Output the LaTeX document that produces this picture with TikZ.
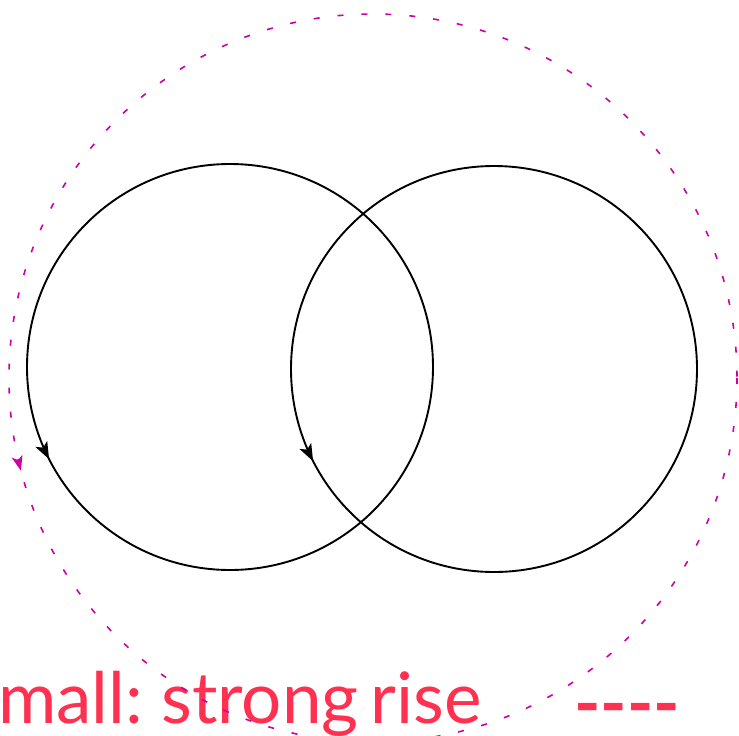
\documentclass[tikz,border=0pt]{standalone}
\usepackage{fontspec}
\setmainfont{Lato}
\usetikzlibrary{arrows.meta,decorations.markings}
\definecolor{labelred}{RGB}{255,48,80}
\definecolor{dashmag}{RGB}{204,0,170}
\tikzset{
  ring/.style={draw=black, line width=1.9pt},
  ringarrow/.style={postaction={decorate, decoration={markings,
     mark=at position #1 with {\arrowreversed{Stealth[length=17pt,width=13pt,inset=4pt]}}}}},
  bigring/.style={draw=dashmag, line width=1.6pt, dash pattern=on 6pt off 18pt},
  magarrow/.style={postaction={decorate, decoration={markings,
     mark=at position #1 with {\arrowreversed[dashmag, solid]{Stealth[length=15pt,width=11pt,inset=4pt]}}}}},
  lbl/.style={text=labelred, inner sep=0pt, font=\fontsize{71}{71}\selectfont}
}
\begin{document}
\begin{tikzpicture}[x=1pt,y=-1pt]
\useasboundingbox (0,0) rectangle (739,736);
\coordinate (c1) at (230,367);
\coordinate (c2) at (494,369);
\coordinate (c3) at (373,378);
\draw[ring, ringarrow=0.425] (c1) circle[radius=203];
\draw[ring, ringarrow=0.425] (c2) circle[radius=203];
\node[lbl, anchor=base west] (txt) at (-2,723) {\spaceskip=0.17em plus 0.05em mall: strong rise};
\node[lbl, anchor=base west] (leg) at (574,728) {\bfseries -\kern0pt-\kern0pt-\kern0pt-};
\draw[bigring, magarrow=0.459] (c3) circle[radius=364];
\end{tikzpicture}
\end{document}
